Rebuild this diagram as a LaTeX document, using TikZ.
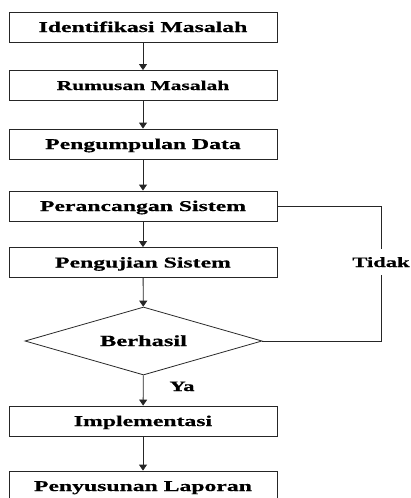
\documentclass[tikz,border=0pt]{standalone}
\usepackage{fontspec}
\setmainfont{Liberation Serif}[FakeStretch=1.58,BoldFeatures={FakeBold=0.6}]
\usetikzlibrary{shapes.geometric,arrows.meta}
\begin{document}
\begin{tikzpicture}[x=1pt,y=-1pt,
  stepbox/.style={draw=black!85,line width=0.8pt,minimum width=268pt,minimum height=30pt,
    inner sep=0pt,text height=10pt,text depth=0pt,font=\fontsize{15}{18}\selectfont\bfseries},
  decide/.style={draw=black!85,line width=0.8pt,shape=diamond,aspect=3.485,minimum width=237pt,minimum height=68pt,
    inner sep=0pt,text height=10pt,text depth=0pt,font=\fontsize{15.5}{18}\selectfont\bfseries},
  lbl/.style={inner sep=1pt,text height=10pt,text depth=0pt,font=\fontsize{14.3}{17}\selectfont\bfseries},
  arr/.style={draw=black!85,line width=0.8pt,-{Triangle[length=6pt,width=8pt]}},
  ln/.style={draw=black!85,line width=0.8pt}]
\clip (0,0) rectangle (410,498);
\node[stepbox] (b1) at (143,27) {Identifikasi Masalah};
\node[stepbox,font=\fontsize{13.6}{16}\selectfont\bfseries,text height=9pt] (b2) at (143,85.5) {Rumusan Masalah};
\node[stepbox] (b3) at (143,144) {Pengumpulan Data};
\node[stepbox] (b4) at (143,206) {Perancangan Sistem};
\node[stepbox] (b5) at (143,262.5) {Pengujian Sistem};
\node[decide] (d) at (143.5,341) {Berhasil};
\node[stepbox] (b6) at (143,421) {Implementasi};
\node[stepbox] (b7) at (143,486) {Penyusunan Laporan};
\draw[arr] (b1) -- (b2);
\draw[arr] (b2) -- (b3);
\draw[arr] (b3) -- (b4);
\draw[arr] (b4) -- (b5);
\draw[arr] (b5) -- (d);
\draw[arr] (d) -- (b6);
\draw[arr] (b6) -- (b7);
\coordinate (c1) at (381,206);
\draw[ln] (b4.east) -- (c1) -- (c1 |- d.east) -- (d.east);
\node[lbl,fill=white,inner ysep=8pt] (tidak) at (381,262) {Tidak};
\node[lbl] (ya) at (182,386) {Ya};
\end{tikzpicture}
\end{document}
